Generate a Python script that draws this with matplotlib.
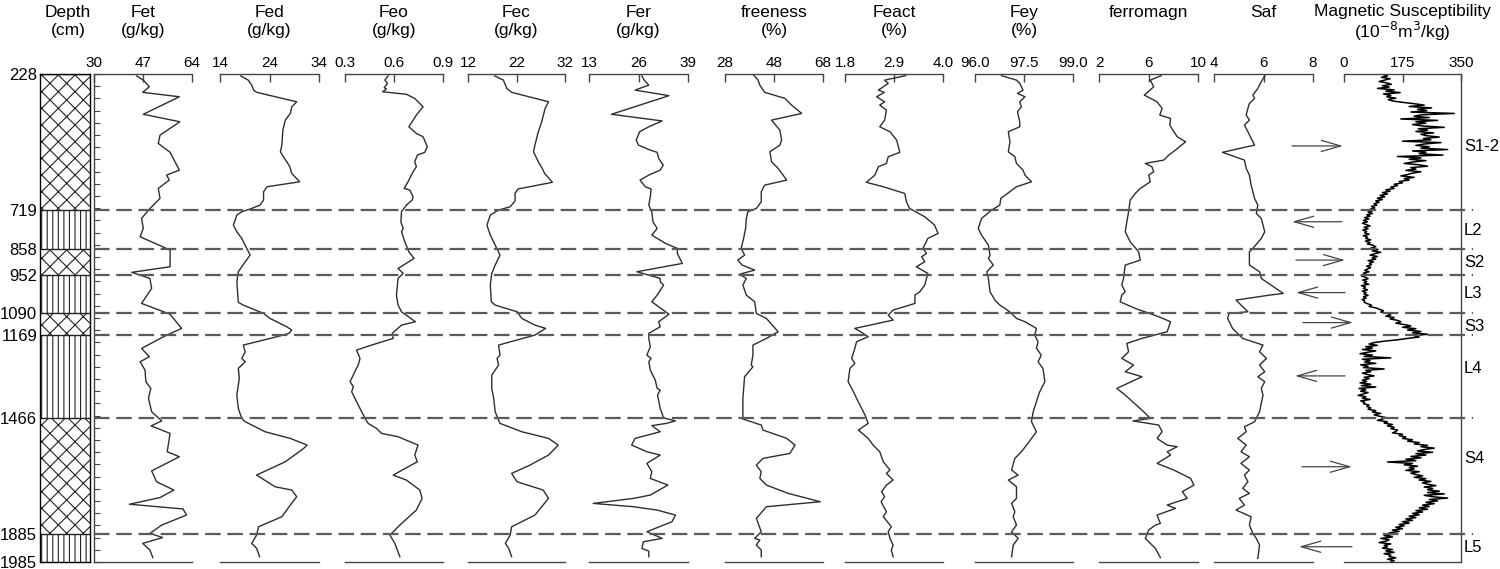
import matplotlib
matplotlib.use('Agg')
import numpy as np
import matplotlib.pyplot as plt
from matplotlib.lines import Line2D
from matplotlib.transforms import blended_transform_factory

plt.rcParams['font.family'] = ['Liberation Sans', 'DejaVu Sans']
plt.rcParams['hatch.linewidth'] = 0.8

# ---- stratigraphy ----
boundaries = [228, 719, 858, 952, 1090, 1169, 1466, 1885, 1985]
unit_labels = ['S1-2', 'L2', 'S2', 'L3', 'S3', 'L4', 'S4', 'L5']
label_depth = [490, 790, 907, 1017, 1138, 1287, 1611, 1933]
arrow_depth = [487, 760, 898, 1015, 1123, 1315, 1642, 1930]

# ---- geochemistry series (depth in cm) ----
fet_depth = [235, 250, 274, 294, 310, 373, 400, 448, 478, 510, 574, 592, 610, 640, 676, 718, 748, 784,
             814, 862, 922, 942, 964, 1000, 1054, 1093, 1144, 1174, 1216, 1246, 1264, 1294, 1336, 1360,
             1396, 1444, 1477, 1495, 1522, 1588, 1606, 1657, 1696, 1726, 1753, 1777, 1794, 1816, 1852,
             1882, 1897, 1918, 1942, 1969]
fet = [44.8, 47.1, 49.2, 46.9, 59.6, 47.1, 59.8, 52.9, 52.3, 56.4, 59.6, 55.2, 56.1, 52.3, 52.9, 48.9,
       46.5, 47.1, 46.0, 56.4, 56.4, 43.1, 49.4, 50.0, 46.5, 56.4, 60.4, 54.1, 46.5, 49.2, 46.0, 47.7,
       48.0, 49.7, 48.9, 50.0, 53.5, 49.8, 56.4, 55.4, 59.6, 50.0, 51.7, 57.7, 52.9, 42.3, 60.9, 62.1,
       53.5, 49.4, 53.8, 46.9, 49.4, 50.4]

fed_depth = [235, 250, 268, 286, 294, 328, 346, 370, 394, 430, 484, 508, 526, 544, 562, 586, 616, 634,
             652, 682, 700, 714, 724, 736, 772, 796, 820, 856, 880, 904, 940, 976, 1050, 1060, 1090,
             1108, 1138, 1150, 1162, 1174, 1204, 1228, 1252, 1264, 1288, 1324, 1384, 1432, 1468, 1480,
             1516, 1540, 1564, 1576, 1624, 1672, 1714, 1726, 1750, 1780, 1822, 1858, 1888, 1918, 1936, 1966]
fed = [18.2, 19.7, 20.4, 20.8, 21.4, 29.5, 28.5, 28.2, 27.2, 26.7, 26.5, 26.2, 26.8, 27.5, 28.1, 28.5,
       30.1, 23.5, 22.8, 22.8, 22.1, 20.1, 18.4, 17.4, 16.7, 17.4, 18.4, 19.4, 20.1, 19.1, 17.7, 17.4,
       17.7, 18.7, 22.8, 24.1, 27.5, 28.5, 27.9, 25.5, 18.7, 19.1, 18.4, 19.1, 17.7, 17.9, 17.4, 17.7,
       18.4, 19.1, 23.1, 28.2, 31.6, 30.9, 27.2, 21.4, 25.1, 28.5, 29.5, 28.2, 26.5, 21.8, 21.4, 20.4,
       21.4, 22.0]

feo_depth = [235, 250, 262, 277, 282, 292, 301, 316, 346, 376, 418, 442, 454, 490, 510, 520, 544, 562,
             580, 616, 640, 646, 670, 682, 700, 724, 760, 784, 796, 832, 868, 892, 928, 946, 964, 1024,
             1060, 1084, 1120, 1132, 1162, 1180, 1204, 1222, 1252, 1276, 1294, 1336, 1354, 1372, 1396,
             1444, 1477, 1486, 1504, 1522, 1534, 1564, 1600, 1624, 1672, 1690, 1726, 1756, 1798, 1852,
             1888, 1918, 1966]
feo = [0.564, 0.544, 0.560, 0.540, 0.554, 0.530, 0.676, 0.727, 0.778, 0.737, 0.691, 0.737, 0.778, 0.804,
       0.788, 0.743, 0.727, 0.737, 0.717, 0.686, 0.662, 0.697, 0.717, 0.711, 0.676, 0.646, 0.642, 0.656,
       0.646, 0.666, 0.691, 0.723, 0.625, 0.656, 0.625, 0.615, 0.625, 0.646, 0.731, 0.646, 0.589, 0.595,
       0.463, 0.371, 0.392, 0.381, 0.365, 0.331, 0.351, 0.341, 0.361, 0.402, 0.432, 0.442, 0.493, 0.524,
       0.625, 0.747, 0.727, 0.743, 0.595, 0.676, 0.758, 0.772, 0.737, 0.636, 0.575, 0.605, 0.636]

fec_depth = [235, 250, 280, 294, 328, 352, 400, 436, 484, 508, 544, 568, 586, 618, 642, 658, 685, 706,
             718, 736, 772, 808, 844, 880, 916, 946, 988, 1048, 1060, 1084, 1108, 1132, 1144, 1168, 1204,
             1240, 1252, 1276, 1312, 1360, 1396, 1444, 1470, 1486, 1516, 1540, 1564, 1600, 1636, 1666,
             1696, 1726, 1756, 1816, 1858, 1888, 1918, 1936, 1966]
fec = [17.5, 19.3, 20.0, 21.0, 28.6, 27.9, 27.2, 26.5, 25.8, 25.5, 26.5, 27.3, 27.8, 29.4, 22.3, 21.7,
       21.7, 20.7, 18.3, 16.6, 15.9, 16.6, 17.6, 18.6, 17.6, 16.9, 16.6, 16.8, 17.6, 22.1, 23.1, 25.8,
       28.0, 25.8, 18.3, 18.6, 18.0, 18.3, 16.9, 16.9, 17.3, 17.6, 18.2, 18.6, 23.1, 28.6, 30.6, 28.6,
       24.8, 21.0, 22.1, 27.5, 28.6, 25.8, 21.0, 20.7, 19.7, 20.4, 21.0]

fer_depth = [235, 250, 268, 286, 306, 373, 397, 418, 436, 466, 484, 502, 510, 532, 556, 574, 592, 610,
             634, 642, 670, 700, 724, 760, 784, 808, 838, 856, 874, 910, 940, 964, 976, 988, 1024, 1048,
             1093, 1120, 1138, 1162, 1180, 1210, 1240, 1252, 1264, 1294, 1330, 1360, 1366, 1384, 1432,
             1466, 1477, 1486, 1494, 1516, 1540, 1564, 1588, 1600, 1630, 1660, 1684, 1708, 1744, 1756,
             1774, 1786, 1798, 1816, 1840, 1876, 1900, 1912, 1936, 1946, 1966]
fer = [26.9, 27.5, 28.7, 25.1, 34.0, 18.9, 32.2, 28.7, 26.3, 25.4, 26.0, 29.1, 30.9, 31.3, 32.5, 31.7,
       28.7, 26.4, 27.8, 29.3, 29.1, 28.7, 29.5, 29.8, 30.9, 29.5, 33.1, 36.2, 36.2, 37.5, 25.6, 31.7,
       31.7, 32.6, 30.9, 29.5, 34.0, 31.3, 31.7, 28.7, 28.7, 29.1, 28.2, 29.3, 28.7, 29.1, 30.4, 30.9,
       31.7, 31.0, 31.7, 32.6, 35.7, 33.3, 29.5, 31.7, 25.1, 24.2, 28.2, 31.7, 28.2, 29.5, 29.1, 33.7,
       29.1, 24.7, 14.1, 24.7, 30.9, 35.7, 34.8, 28.2, 32.2, 27.3, 26.9, 28.7, 28.7]

free_depth = [232, 250, 268, 282, 294, 316, 340, 370, 394, 430, 466, 484, 508, 544, 568, 610, 628, 652,
              688, 712, 724, 748, 784, 820, 856, 880, 898, 916, 934, 949, 964, 988, 1024, 1048, 1090,
              1108, 1156, 1180, 1204, 1240, 1276, 1282, 1318, 1396, 1470, 1492, 1510, 1540, 1564, 1594,
              1612, 1636, 1660, 1684, 1708, 1738, 1768, 1786, 1828, 1876, 1900, 1906, 1924, 1942, 1966]
freeness = [39.7, 41.5, 42.2, 43.3, 44.2, 52.5, 55.2, 59.3, 47.0, 50.4, 51.1, 50.4, 46.3, 47.0, 49.7,
            53.2, 44.2, 42.8, 42.8, 40.8, 37.3, 36.7, 36.4, 35.6, 34.6, 36.0, 33.2, 35.0, 40.1, 33.9,
            36.7, 35.3, 36.7, 40.1, 40.8, 44.9, 49.7, 44.9, 39.4, 39.4, 38.7, 39.4, 36.0, 35.3, 35.3,
            42.8, 43.5, 53.2, 56.6, 54.5, 43.5, 40.8, 42.8, 42.2, 44.9, 53.8, 66.9, 44.9, 40.8, 42.8,
            40.1, 42.2, 40.8, 42.8, 42.8]

feact_depth = [234, 250, 262, 286, 294, 310, 328, 340, 358, 394, 418, 436, 466, 510, 526, 550, 562, 592,
               618, 634, 658, 688, 712, 742, 772, 802, 820, 856, 874, 886, 904, 922, 946, 988, 1012, 1024,
               1054, 1078, 1096, 1114, 1144, 1162, 1174, 1192, 1216, 1252, 1270, 1288, 1336, 1372, 1396,
               1456, 1486, 1510, 1540, 1564, 1588, 1624, 1654, 1666, 1690, 1708, 1732, 1750, 1768, 1804,
               1822, 1858, 1876, 1900, 1924, 1942, 1966]
feact = [3.16, 2.69, 2.77, 2.55, 2.68, 2.51, 2.69, 2.58, 2.73, 2.69, 2.58, 2.81, 2.96, 3.03, 2.77, 2.73,
         2.55, 2.47, 2.28, 2.66, 3.14, 3.18, 3.25, 3.59, 3.81, 3.89, 3.66, 3.55, 3.63, 3.52, 3.59, 3.40,
         3.66, 3.59, 3.48, 3.37, 3.37, 2.88, 2.77, 2.88, 2.02, 2.21, 2.32, 2.06, 2.02, 1.95, 2.02, 1.91,
         1.87, 1.99, 2.06, 2.25, 2.32, 2.10, 2.32, 2.43, 2.58, 2.66, 2.81, 2.73, 2.88, 2.73, 2.62, 2.69,
         2.61, 2.73, 2.66, 2.84, 2.77, 2.81, 2.88, 2.84, 2.88]

fey_depth = [234, 250, 262, 286, 298, 310, 328, 346, 364, 400, 418, 436, 472, 508, 526, 550, 574, 592,
             616, 634, 676, 700, 718, 748, 784, 808, 844, 880, 892, 916, 940, 964, 1012, 1042, 1060, 1072,
             1090, 1108, 1120, 1144, 1168, 1192, 1216, 1240, 1264, 1288, 1336, 1372, 1408, 1444, 1480,
             1516, 1540, 1564, 1588, 1612, 1654, 1672, 1690, 1714, 1756, 1774, 1804, 1822, 1852, 1876,
             1900, 1924, 1966]
fey = [96.81, 97.27, 97.37, 97.47, 97.30, 97.53, 97.37, 97.42, 97.30, 97.37, 97.37, 97.02, 97.07, 97.02,
       97.22, 97.27, 97.47, 97.53, 97.73, 97.27, 96.79, 96.76, 96.51, 96.20, 96.10, 96.20, 96.41, 96.46,
       96.41, 96.56, 96.36, 96.41, 96.46, 96.61, 96.76, 96.92, 97.12, 97.27, 97.53, 97.88, 97.83, 97.93,
       97.88, 98.03, 97.93, 98.08, 98.14, 97.98, 97.88, 97.78, 97.73, 97.88, 97.73, 97.58, 97.42, 97.22,
       97.12, 97.32, 97.02, 97.27, 97.27, 97.12, 97.22, 97.17, 97.27, 97.12, 97.32, 97.17, 97.12]

ferro_depth = [234, 250, 274, 304, 328, 352, 376, 388, 412, 436, 454, 472, 502, 520, 538, 550, 562, 580,
               592, 616, 640, 658, 682, 724, 760, 796, 832, 868, 898, 916, 964, 988, 1012, 1024, 1048,
               1072, 1102, 1120, 1156, 1180, 1198, 1228, 1252, 1276, 1300, 1318, 1360, 1384, 1444, 1468,
               1477, 1492, 1516, 1540, 1564, 1570, 1588, 1600, 1630, 1654, 1684, 1708, 1732, 1756, 1780,
               1792, 1816, 1846, 1852, 1870, 1900, 1936, 1969]
ferromagn = [7.02, 6.15, 6.42, 5.66, 6.69, 7.10, 6.91, 7.78, 7.72, 8.05, 8.32, 9.00, 8.18, 7.64, 7.23,
             5.74, 6.28, 6.42, 6.01, 6.15, 5.34, 4.93, 4.52, 4.39, 4.25, 4.12, 4.52, 5.20, 5.34, 4.12,
             3.98, 3.84, 4.12, 3.84, 3.71, 4.93, 6.83, 7.78, 7.51, 5.47, 4.25, 4.39, 3.84, 4.79, 4.12,
             5.47, 3.44, 4.12, 5.61, 6.15, 4.74, 6.83, 7.10, 6.69, 7.51, 8.32, 7.51, 7.78, 6.69, 8.05,
             9.40, 9.67, 8.73, 9.13, 7.51, 8.18, 6.69, 6.96, 6.56, 6.01, 5.74, 6.56, 6.96]

saf_depth = [234, 256, 280, 304, 316, 334, 352, 376, 394, 412, 436, 484, 510, 538, 568, 592, 628, 652,
             676, 700, 730, 748, 772, 796, 820, 856, 868, 916, 940, 964, 1018, 1024, 1042, 1084, 1090,
             1108, 1144, 1180, 1204, 1228, 1252, 1276, 1300, 1318, 1336, 1360, 1384, 1444, 1480, 1498,
             1516, 1540, 1564, 1588, 1606, 1630, 1654, 1672, 1696, 1720, 1738, 1756, 1780, 1798, 1822,
             1852, 1882, 1900, 1924, 1972]
saf = [6.05, 5.91, 5.77, 5.57, 5.64, 5.43, 5.37, 5.30, 5.43, 5.23, 5.37, 5.64, 4.34, 5.23, 5.30, 5.43,
       5.50, 5.57, 5.64, 5.77, 5.71, 5.91, 5.98, 6.05, 5.91, 5.57, 5.43, 5.43, 5.84, 5.91, 6.80, 6.25,
       4.89, 5.37, 4.61, 4.55, 4.75, 5.16, 5.98, 5.84, 6.12, 5.84, 6.05, 5.77, 6.05, 5.91, 5.98, 5.84,
       5.64, 5.23, 5.30, 4.96, 5.30, 5.09, 5.43, 5.09, 5.43, 5.23, 5.37, 5.16, 5.43, 5.02, 5.23, 4.89,
       5.50, 5.43, 5.57, 5.71, 5.84, 5.77]

# magnetic susceptibility, 5 cm steps from 230 cm (one row = 1 m)
ms_depth = list(range(230, 1990, 5))
ms = [118, 130, 112, 138, 122, 105, 128, 142, 115, 135, 100, 150, 125, 168, 118, 140, 128, 155, 132, 145,
      175, 210, 240, 195, 262, 220, 248, 200, 330, 230, 210, 255, 170, 280, 215, 245, 205, 235, 300, 222,
      250, 215, 268, 230, 245, 285, 238, 260, 175, 290, 240, 215, 255, 230, 310, 205, 245, 225, 296, 160,
      230, 195, 245, 205, 180, 225, 250, 200, 215, 185, 230, 205, 190, 170, 210, 180, 195, 165, 175, 150,
      160, 140, 150, 125, 138, 115, 130, 108, 122, 100, 115, 95, 105, 90, 98, 82, 92, 78, 86, 72,
      85, 68, 78, 62, 74, 58, 70, 55, 66, 78, 60, 72, 56, 68, 62, 75, 58, 70, 65, 80,
      64, 78, 70, 88, 95, 80, 102, 85, 110, 92, 78, 100, 84, 95, 72, 88, 76, 82, 68, 80,
      70, 62, 75, 58, 68, 52, 65, 72, 56, 68, 60, 74, 52, 64, 58, 70, 55, 66, 60, 72,
      58, 66, 54, 62, 60, 70, 82, 75, 95, 105, 118, 110, 130, 140, 125, 150, 138, 160, 170, 155,
      180, 200, 175, 215, 190, 230, 205, 250, 210, 225, 190, 160, 120, 90, 75, 100, 65, 85, 55, 95,
      70, 48, 85, 60, 140, 55, 78, 62, 95, 50, 72, 58, 120, 65, 80, 55, 70, 90, 60, 75,
      55, 68, 48, 80, 52, 95, 45, 65, 50, 72, 58, 42, 66, 55, 78, 50, 62, 58, 75, 68,
      80, 72, 95, 85, 110, 90, 105, 125, 115, 100, 130, 120, 145, 130, 150, 140, 160, 155, 145, 175,
      165, 185, 175, 205, 190, 225, 210, 250, 230, 270, 240, 220, 265, 215, 245, 200, 230, 185, 215, 130,
      205, 180, 220, 195, 210, 185, 225, 200, 215, 235, 210, 245, 225, 260, 235, 250, 275, 240, 265, 250,
      285, 250, 300, 240, 265, 310, 255, 280, 245, 270, 235, 255, 225, 250, 215, 235, 205, 225, 195, 215,
      185, 205, 175, 195, 165, 180, 155, 175, 145, 165, 135, 150, 120, 145, 110, 135, 125, 105, 140, 120,
      130, 115, 145, 125, 150, 120, 140, 135, 155, 130, 150, 140]

W, H = 1500, 569
TOP, BOT = 74, 562
fig = plt.figure(figsize=(W / 100, H / 100), dpi=100)


def px_axes(x0, x1):
    return fig.add_axes([x0 / W, 1 - BOT / H, (x1 - x0) / W, (BOT - TOP) / H])


def header(xc, text, bases=(17, 35)):
    # each header line on its own fixed baseline
    for line, base in zip(text.split('\n'), bases):
        fig.text(xc / W, 1 - base / H, line, ha='center', va='baseline', fontsize=12.5)


line_col = '#2e2e2e'

# ---- depth / lithology column ----
ax_d = px_axes(40, 90)
ax_d.set_xlim(0, 1)
ax_d.set_ylim(boundaries[-1], boundaries[0])
for i in range(len(unit_labels)):
    hatch = 'xx' if unit_labels[i].startswith('S') else '|||'
    ax_d.fill_between([0, 1], boundaries[i], boundaries[i + 1], facecolor='white',
                      edgecolor='#222222', hatch=hatch, lw=0)
    ax_d.axhline(boundaries[i], color='#222222', lw=1.0)
ax_d.set_xticks([])
ax_d.set_yticks(boundaries)
ax_d.set_yticklabels([str(b) for b in boundaries])
ax_d.tick_params(axis='y', length=0, pad=2, labelsize=12)
for s in ax_d.spines.values():
    s.set_linewidth(1.0)
header(68, 'Depth\n(cm)')

# ---- data panels ----
panels = [
    ('Fet\n(g/kg)', fet_depth, fet, (30, 64), ['30', '47', '64'], 94, 192),
    ('Fed\n(g/kg)', fed_depth, fed, (14, 34), ['14', '24', '34'], 220, 319),
    ('Feo\n(g/kg)', feo_depth, feo, (0.3, 0.9), ['0.3', '0.6', '0.9'], 345, 443),
    ('Fec\n(g/kg)', fec_depth, fec, (12, 32), ['12', '22', '32'], 468, 565),
    ('Fer\n(g/kg)', fer_depth, fer, (13, 39), ['13', '26', '39'], 589, 688),
    ('freeness\n(%)', free_depth, freeness, (28, 68), ['28', '48', '68'], 725, 823),
    ('Feact\n(%)', feact_depth, feact, (1.8, 4.0), ['1.8', '2.9', '4.0'], 845, 943),
    ('Fey\n(%)', fey_depth, fey, (96.0, 99.0), ['96.0', '97.5', '99.0'], 975, 1073),
    ('ferromagn', ferro_depth, ferromagn, (2, 10), ['2', '6', '10'], 1099, 1198),
    ('Saf', saf_depth, saf, (4, 8), ['4', '6', '8'], 1214, 1313),
    ('Magnetic Susceptibility\n(10$^{-8}$m$^{3}$/kg)', ms_depth, ms, (0, 350),
     ['0', '175', '350'], 1344, 1461),
]

axes = []
for k, (head, dep, val, lim, labels, x0, x1) in enumerate(panels):
    ax = px_axes(x0, x1)
    is_ms = k == len(panels) - 1
    ax.plot(val, dep, color='black' if is_ms else line_col, lw=1.1 if is_ms else 1.0)
    ax.set_xlim(lim)
    ax.set_ylim(boundaries[-1], boundaries[0])
    ax.xaxis.tick_top()
    ax.set_xticks([lim[0], (lim[0] + lim[1]) / 2, lim[1]])
    ax.set_xticklabels(labels)
    ax.tick_params(axis='x', direction='in', length=6, width=1.0, pad=3, labelsize=11,
                   color='#444444')
    ax.spines['right'].set_visible(is_ms)
    ax.spines['left'].set_visible(k == 0)
    for s in ax.spines.values():
        s.set_linewidth(1.0)
        s.set_color('#444444')
    if k == 0:
        ax.set_yticks(np.linspace(boundaries[0], boundaries[-1], 41))
        ax.tick_params(axis='y', direction='in', length=4, labelleft=False, color='#444444')
    else:
        ax.set_yticks([])
    header((x0 + x1) / 2, head, (16, 38) if is_ms else (17, 35))
    axes.append(ax)

ax_ms = axes[-1]

# ---- dashed unit boundaries across panels ----
trans = blended_transform_factory(fig.transFigure, ax_d.transData)
for b in boundaries[1:-1]:
    fig.add_artist(Line2D([94 / W, 1473 / W], [b, b], transform=trans, color='#5a5a5a',
                          lw=1.6, ls=(0, (7, 3))))

# ---- arrows and unit labels ----
arrow_x = [(1292, 1343), (1342, 1292), (1296, 1345), (1345, 1296),
           (1303, 1353), (1345, 1295), (1302, 1352), (1352, 1299)]
for d, (xa, xb) in zip(arrow_depth, arrow_x):
    ax_ms.annotate('', xy=(xb / W, d), xytext=(xa / W, d), xycoords=trans, textcoords=trans,
                   arrowprops=dict(arrowstyle='->,head_length=1.4,head_width=0.4', lw=0.9,
                                   color='#444444', shrinkA=0, shrinkB=0))
for lab, d in zip(unit_labels, label_depth):
    fig.text(1464 / W, 0, lab, transform=trans, ha='left', va='center', fontsize=12)
    fig.texts[-1].set_position((1464 / W, d))

fig.savefig('out.png', dpi=100)
